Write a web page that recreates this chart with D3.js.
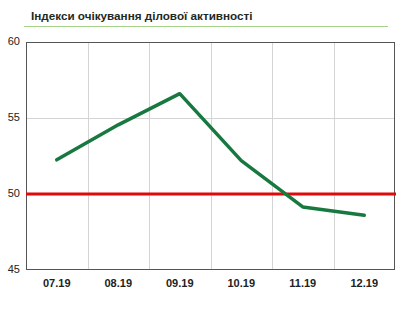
<!DOCTYPE html>
<html><head><meta charset="utf-8">
<script src="https://cdn.jsdelivr.net/npm/d3@7"></script>
<style>body{margin:0;background:#fff;}svg{display:block;}</style>
</head><body><svg id="c" width="408" height="309"></svg>
<script>
const title = "Індекси очікування ділової активності";
const categories = ["07.19","08.19","09.19","10.19","11.19","12.19"];
const values = [52.25, 54.55, 56.6, 52.2, 49.15, 48.6];
const yTicks = [45, 50, 55, 60];
const threshold = 50;

const svg = d3.select("#c");
const m = {l:26, r:395, t:42, b:270};
const x = d3.scaleBand().domain(categories).range([m.l, m.r]);
const y = d3.scaleLinear().domain([45, 60]).range([m.b, m.t]);

// title
svg.append("text").attr("x", 31).attr("y", 20)
  .attr("font-family", "Liberation Sans, Arial, sans-serif")
  .attr("font-size", 11.7).attr("font-weight", "bold").attr("fill", "#1e2a1e")
  .text(title);
svg.append("line").attr("x1", 24).attr("x2", 388).attr("y1", 26.5).attr("y2", 26.5)
  .attr("stroke", "#a6d28a").attr("stroke-width", 1);

// grid
const g = svg.append("g");
g.selectAll("line.v").data(categories.slice(1)).enter().append("line")
  .attr("x1", d => Math.round(x(d)) + 0.5).attr("x2", d => Math.round(x(d)) + 0.5)
  .attr("y1", m.t).attr("y2", m.b).attr("stroke", "#d4d4d4");
g.selectAll("line.h").data(yTicks.filter(t => t > 45 && t < 60)).enter().append("line")
  .attr("x1", m.l).attr("x2", m.r)
  .attr("y1", d => Math.round(y(d)) + 0.5).attr("y2", d => Math.round(y(d)) + 0.5)
  .attr("stroke", "#d4d4d4");

// border
svg.append("rect").attr("x", m.l + 0.5).attr("y", m.t + 0.5)
  .attr("width", m.r - m.l - 1).attr("height", m.b - m.t - 1)
  .attr("fill", "none").attr("stroke", "#555").attr("stroke-width", 1);

// y axis labels
const yAxis = d3.axisLeft(y).tickValues(yTicks).tickSize(0).tickPadding(6);
const ya = svg.append("g").attr("transform", `translate(${m.l},0)`).call(yAxis);
ya.select(".domain").remove();
ya.selectAll("text").attr("font-family", "Liberation Sans, Arial, sans-serif")
  .attr("font-size", 11).attr("fill", "#222").attr("dy", "0.2em");

// x axis labels
const xAxis = d3.axisBottom(x).tickSize(0).tickPadding(9);
const xa = svg.append("g").attr("transform", `translate(0,${m.b})`).call(xAxis);
xa.select(".domain").remove();
xa.selectAll("text").attr("font-family", "Liberation Sans, Arial, sans-serif")
  .attr("font-size", 11).attr("font-weight", "bold").attr("fill", "#222");

// threshold line
svg.append("line").attr("x1", m.l).attr("x2", m.r + 1)
  .attr("y1", y(threshold)).attr("y2", y(threshold))
  .attr("stroke", "#e00a0a").attr("stroke-width", 3);

// data line
const line = d3.line().x((d, i) => x(categories[i]) + x.bandwidth() / 2).y(d => y(d));
svg.append("path").datum(values).attr("d", line)
  .attr("fill", "none").attr("stroke", "#17793f").attr("stroke-width", 3.5)
  .attr("stroke-linejoin", "round").attr("stroke-linecap", "round");
</script></body></html>
